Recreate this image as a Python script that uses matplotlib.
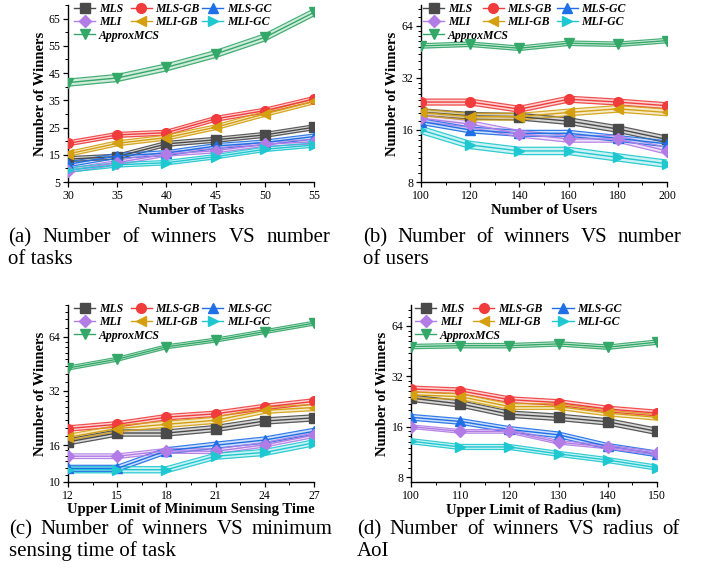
import numpy as np
import matplotlib
matplotlib.use("Agg")
import matplotlib.pyplot as plt
from matplotlib.legend import Legend
from matplotlib.ticker import AutoMinorLocator, FixedLocator, NullFormatter, FixedFormatter

# ---------------- data ----------------
series_names = ["MLS", "MLS-GB", "MLS-GC", "MLI", "MLI-GB", "MLI-GC", "ApproxMCS"]

x_a = [30, 35, 40, 45, 50, 55]
a_MLS = [13.4, 14.3, 19.0, 20.5, 22.3, 25.1]
a_MLSGB = [19.2, 22.3, 23.1, 28.2, 31.2, 35.5]
a_MLSGC = [11.5, 14.6, 15.6, 18.2, 19.5, 21.7]
a_MLI = [9.2, 12.1, 15.3, 16.5, 18.9, 19.8]
a_MLIGB = [15.3, 19.2, 21.3, 25.1, 30.0, 34.6]
a_MLIGC = [9.4, 11.3, 12.1, 14.3, 17.0, 18.6]
a_Approx = [41.5, 43.2, 47.1, 52.0, 58.1, 67.3]
band_a = [0.9, 0.9, 0.9, 0.8, 0.9, 0.8, 1.3]          # half-width (data units)

x_b = [100, 120, 140, 160, 180, 200]
b_MLS = [20.3, 19.3, 19.1, 18.0, 16.2, 14.1]
b_MLSGB = [23.2, 23.2, 21.1, 24.1, 23.2, 22.1]
b_MLSGC = [17.9, 16.0, 15.3, 15.3, 14.3, 13.3]
b_MLI = [18.7, 17.3, 15.2, 14.2, 14.2, 12.1]
b_MLIGB = [20.2, 19.1, 19.1, 20.2, 21.2, 20.2]
b_MLIGC = [16.0, 13.1, 12.1, 12.1, 11.1, 10.2]
b_Approx = [49.0, 50.1, 47.5, 50.8, 50.1, 52.6]
band_b = [1.045, 1.04, 1.04, 1.045, 1.045, 1.05, 1.03]   # ratio

x_c = [12, 15, 18, 21, 24, 27]
c_MLS = [16.7, 18.7, 18.7, 19.8, 21.8, 22.7]
c_MLSGB = [19.8, 20.9, 22.9, 23.9, 26.1, 28.0]
c_MLSGC = [11.9, 11.9, 14.9, 16.0, 17.1, 19.1]
c_MLI = [13.9, 13.9, 14.9, 14.8, 16.1, 18.2]
c_MLIGB = [17.7, 19.8, 20.9, 22.0, 25.0, 25.9]
c_MLIGC = [11.7, 11.7, 11.7, 13.9, 14.6, 16.5]
c_Approx = [42.9, 48.0, 56.3, 61.3, 68.3, 76.1]
band_c = [1.04, 1.035, 1.04, 1.03, 1.04, 1.04, 1.025]

x_d = [100, 110, 120, 130, 140, 150]
d_MLS = [23.7, 21.9, 19.0, 18.2, 17.1, 15.0]
d_MLSGB = [26.9, 26.2, 23.2, 22.3, 20.4, 19.3]
d_MLSGC = [18.2, 17.2, 15.4, 14.3, 12.2, 11.0]
d_MLI = [16.0, 15.0, 15.0, 12.9, 12.1, 11.1]
d_MLIGB = [24.8, 24.2, 21.1, 21.1, 19.3, 18.2]
d_MLIGC = [13.1, 12.1, 12.1, 11.0, 10.1, 9.1]
d_Approx = [48.2, 48.8, 48.8, 50.0, 47.8, 51.2]
band_d = [1.045, 1.04, 1.04, 1.025, 1.04, 1.035, 1.03]

xlabels = ["Number of Tasks", "Number of Users",
           "Upper Limit of Minimum Sensing Time", "Upper Limit of Radius (km)"]
captions = [("(a) Number of winners VS number", "of tasks"),
            ("(b) Number of winners VS number", "of users"),
            ("(c) Number of winners VS minimum", "sensing time of task"),
            ("(d) Number of winners VS radius of", "AoI")]

# ---------------- style ----------------
colors = ["#4a4a4a", "#f03c3c", "#1f6fe6", "#b27ce6", "#d4a010", "#1fc8d0", "#34a868"]
markers = ["s", "o", "^", "D", "<", ">", "v"]
msizes = [6.5, 7, 7, 6, 7, 7, 7]
SERIF = "Liberation Serif"

fig = plt.figure(figsize=(7.13, 5.73), dpi=100)
W, H = 713, 573

def axrect(l, r, t, b):
    return [l / W, 1 - b / H, (r - l) / W, (b - t) / H]

panels = [
    dict(rect=axrect(68, 314, 5, 182), x=x_a,
         ys=[a_MLS, a_MLSGB, a_MLSGC, a_MLI, a_MLIGB, a_MLIGC, a_Approx],
         band=band_a, log=False, ylim=(5, 70), yticks=[5, 15, 25, 35, 45, 55, 65],
         xticks=x_a, ylab_x=41, xlab_y=210, legx=[0.024, 0.255, 0.545]),
    dict(rect=axrect(421, 667, 5, 182), x=x_b,
         ys=[b_MLS, b_MLSGB, b_MLSGC, b_MLI, b_MLIGB, b_MLIGC, b_Approx],
         band=band_b, log=True, ylim=(8, 84.5), yticks=[8, 16, 32, 64],
         xticks=x_b, ylab_x=393, xlab_y=210, legx=[0.009, 0.251, 0.552]),
    dict(rect=axrect(68, 314, 305, 482), x=x_c,
         ys=[c_MLS, c_MLSGB, c_MLSGC, c_MLI, c_MLIGB, c_MLIGC, c_Approx],
         band=band_c, log=True, ylim=(10, 96), yticks=[10, 16, 32, 64],
         xticks=x_c, ylab_x=41, xlab_y=510, legx=[0.024, 0.255, 0.545]),
    dict(rect=axrect(411, 657, 305, 482), x=x_d,
         ys=[d_MLS, d_MLSGB, d_MLSGC, d_MLI, d_MLIGB, d_MLIGC, d_Approx],
         band=band_d, log=True, ylim=(7.47, 85.4), yticks=[8, 16, 32, 64],
         xticks=x_d, ylab_x=383, xlab_y=510, legx=[0.016, 0.253, 0.575]),
]

leg_cols = [[0, 3, 6], [1, 4], [2, 5]]
leg_prop = dict(family=SERIF, style="italic", weight="bold", size=8.5)

for pi, p in enumerate(panels):
    ax = fig.add_axes(p["rect"])
    x = np.array(p["x"], dtype=float)
    handles = []
    for i, name in enumerate(series_names):
        y = np.array(p["ys"][i], dtype=float)
        if p["log"]:
            lo, hi = y / p["band"][i], y * p["band"][i]
        else:
            lo, hi = y - p["band"][i], y + p["band"][i]
        c = colors[i]
        ax.fill_between(x, lo, hi, color=c, alpha=0.22, lw=0, zorder=2)
        ax.plot(x, lo, color=c, lw=0.9, alpha=0.9, zorder=3)
        ax.plot(x, hi, color=c, lw=0.9, alpha=0.9, zorder=3)
        h, = ax.plot(x, y, color=c, lw=1.0, marker=markers[i], ms=msizes[i],
                     mec=c, mfc=c, label=name, zorder=4)
        handles.append(h)
    if p["log"]:
        ax.set_yscale("log", base=2)
        minors = []
        for lo_, step in [(8, 1), (16, 2), (32, 4), (64, 8)]:
            minors += list(np.arange(lo_ + step, 2 * lo_, step))
        minors += [9]
        ax.yaxis.set_minor_locator(FixedLocator(minors))
        ax.yaxis.set_minor_formatter(NullFormatter())
        ax.yaxis.set_major_locator(FixedLocator(p["yticks"]))
        ax.yaxis.set_major_formatter(FixedFormatter([str(t) for t in p["yticks"]]))
    else:
        ax.set_yticks(p["yticks"])
        ax.yaxis.set_minor_locator(AutoMinorLocator(2))
    ax.set_ylim(*p["ylim"])
    ax.set_xlim(x[0], x[-1])
    ax.set_xticks(p["xticks"])
    ax.xaxis.set_minor_locator(AutoMinorLocator(2))
    for s in ["top", "right"]:
        ax.spines[s].set_visible(False)
    for s in ["left", "bottom"]:
        ax.spines[s].set_linewidth(1.0)
    ax.tick_params(which="major", direction="out", length=3.5, width=0.9,
                   labelsize=8.5, pad=2)
    ax.tick_params(which="minor", direction="out", length=2, width=0.7)
    for lab in ax.get_xticklabels() + ax.get_yticklabels():
        lab.set_fontfamily(SERIF)

    # legend: three manually positioned columns
    for ci, col in enumerate(leg_cols):
        lg = Legend(ax, [handles[k] for k in col], [series_names[k] for k in col],
                    loc="upper left", bbox_to_anchor=(p["legx"][ci], 1.01),
                    ncol=1, frameon=False, prop=leg_prop,
                    handlelength=1.8, handletextpad=0.3, labelspacing=0.1,
                    borderaxespad=0.0, borderpad=0.0, numpoints=1)
        ax.add_artist(lg)

    l, b, w, h = p["rect"]
    fig.text(l + w / 2, 1 - p["xlab_y"] / H, xlabels[pi],
             ha="center", va="center", family=SERIF, weight="bold", fontsize=10.5)
    fig.text(p["ylab_x"] / W, b + h / 2, "Number of Winners", rotation=90,
             ha="center", va="center", family=SERIF, weight="bold", fontsize=10.5)

# ---------------- justified captions ----------------
renderer = fig.canvas.get_renderer()
cap_pos = [(8, 330, 238), (363, 681, 238), (9, 332, 530), (357, 680, 530)]
CAP_FS = 15
for (l1, l2), (x0, x1, yc) in zip(captions, cap_pos):
    words = l1.split(" ")
    objs = [fig.text(0, 0, w_, family=SERIF, fontsize=CAP_FS, va="center", ha="left")
            for w_ in words]
    widths = [o.get_window_extent(renderer).width for o in objs]
    gap = (x1 - x0 - sum(widths)) / (len(words) - 1)
    cx = x0
    for o, wd in zip(objs, widths):
        o.set_position((cx / W, 1 - yc / H))
        cx += wd + gap
    fig.text(x0 / W, 1 - (yc + 21) / H, l2, family=SERIF, fontsize=CAP_FS,
             va="center", ha="left")

fig.savefig("out.png", dpi=100)
